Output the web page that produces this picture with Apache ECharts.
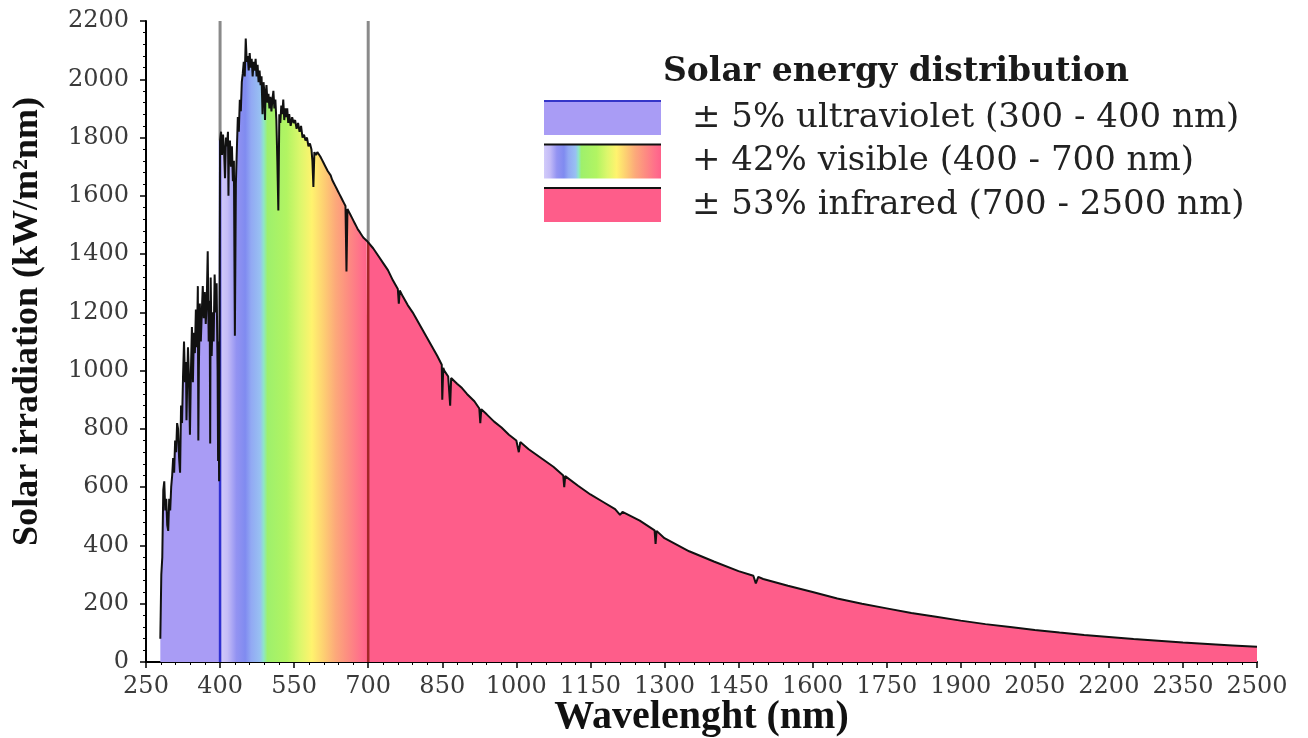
<!DOCTYPE html>
<html>
<head>
<meta charset="utf-8">
<script src="https://cdn.jsdelivr.net/npm/echarts@6/dist/echarts.min.js"></script>
<style>
  html, body { margin: 0; padding: 0; background: #ffffff; }
  #chart { width: 1308px; height: 738px; }
</style>
</head>
<body>
<div id="chart"></div>
<script>
// ---------- data ----------
const uvWavelengths = [279, 281, 283, 285, 287, 289, 291, 293, 295, 297, 299, 301, 303, 305, 307, 309, 311, 313, 315, 317, 319, 321, 323, 325, 327, 329, 331, 332, 333, 335, 337, 339, 341, 343, 345, 347, 349, 351, 353, 355, 356, 357, 359, 361, 363, 365, 367, 369, 371, 373, 375, 377, 379, 380, 381, 383, 385, 387, 389, 391, 393, 395, 396, 397, 398, 400];
const uvIrradiance  = [80, 300, 360, 590, 620, 520, 560, 470, 450, 560, 520, 600, 640, 700, 650, 760, 720, 820, 800, 700, 650, 880, 820, 980, 1100, 960, 1030, 830, 920, 1080, 980, 780, 1000, 1150, 960, 1130, 1060, 1210, 1080, 1290, 760, 1000, 1230, 1100, 1200, 1290, 1180, 1270, 1160, 1240, 1410, 1100, 1240, 750, 1320, 1050, 1200, 1100, 1330, 1200, 1300, 1000, 690, 1100, 620, 1790];

const visWavelengths = [400, 402, 404, 406, 408, 410, 412, 414, 416, 417, 418, 420, 422, 424, 426, 428, 430, 432, 434, 436, 438, 440, 442, 444, 446, 448, 450, 452, 454, 456, 458, 460, 462, 464, 466, 468, 470, 472, 474, 476, 478, 480, 482, 484, 486, 488, 490, 491, 492, 494, 496, 498, 500, 502, 504, 506, 508, 510, 512, 514, 516, 518, 520, 522, 524, 526, 528, 530, 532, 534, 536, 538, 540, 543, 546, 549, 552, 555, 558, 561, 564, 567, 570, 573, 576, 579, 582, 585, 587, 589, 591, 594, 597, 600, 603, 606, 609, 612, 615, 618, 621, 624, 627, 630, 633, 636, 639, 642, 645, 648, 651, 654, 656, 658, 661, 664, 667, 670, 673, 676, 679, 682, 685, 688, 691, 694, 697, 700];
const visIrradiance  = [1790, 1820, 1740, 1810, 1760, 1660, 1800, 1770, 1820, 1600, 1760, 1790, 1700, 1770, 1650, 1720, 1120, 1640, 1760, 1870, 1820, 1930, 1890, 1990, 2020, 2060, 2010, 2140, 2060, 2080, 2030, 2090, 2040, 2070, 2010, 2060, 2030, 2070, 2010, 2050, 1990, 2030, 1980, 2010, 1880, 1990, 1950, 1860, 1940, 1980, 1920, 1950, 1900, 1940, 1890, 1930, 1960, 1900, 1930, 1860, 1720, 1550, 1880, 1850, 1910, 1880, 1930, 1860, 1900, 1870, 1900, 1850, 1880, 1840, 1870, 1850, 1860, 1830, 1850, 1820, 1840, 1800, 1810, 1790, 1800, 1770, 1780, 1760, 1720, 1630, 1750, 1740, 1750, 1745, 1735, 1725, 1715, 1705, 1700, 1685, 1680, 1670, 1655, 1645, 1635, 1625, 1615, 1605, 1595, 1585, 1575, 1565, 1340, 1555, 1545, 1535, 1525, 1515, 1505, 1495, 1485, 1478, 1470, 1462, 1455, 1450, 1446, 1442];

const irWavelengths = [700, 710, 720, 730, 740, 750, 760, 762, 764, 770, 780, 790, 800, 810, 820, 830, 840, 849, 850, 852, 854, 858, 862, 866, 868, 880, 890, 900, 915, 925, 927, 929, 940, 955, 970, 985, 1000, 1005, 1008, 1025, 1050, 1075, 1095, 1097, 1099, 1125, 1150, 1175, 1200, 1210, 1215, 1250, 1280, 1282, 1284, 1300, 1350, 1400, 1450, 1480, 1485, 1490, 1500, 1550, 1600, 1650, 1700, 1750, 1800, 1850, 1900, 1950, 2000, 2050, 2100, 2150, 2200, 2250, 2300, 2350, 2400, 2450, 2500];
const irIrradiance  = [1442, 1420, 1395, 1370, 1345, 1310, 1280, 1230, 1275, 1255, 1225, 1200, 1170, 1140, 1110, 1080, 1050, 1020, 900, 1010, 1000, 1000, 980, 880, 975, 955, 940, 920, 895, 870, 820, 868, 850, 825, 805, 780, 760, 720, 755, 730, 700, 670, 640, 600, 638, 605, 575, 550, 525, 505, 515, 485, 452, 405, 450, 425, 380, 345, 312, 296, 270, 292, 285, 262, 240, 218, 200, 184, 168, 155, 142, 130, 120, 110, 101, 93, 86, 79, 73, 67, 62, 57, 52];

const bandNames = ['± 5% ultraviolet (300 - 400 nm)', '+ 42% visible (400 - 700 nm)', '± 53% infrared (700 - 2500 nm)'];
const boundaryWavelengths = [400, 700];
const xMin = 250, xMax = 2500, xStep = 150;
const yMin = 0, yMax = 2200, yStep = 200;

// ---------- helpers ----------
function pairs(xs, ys) { return xs.map((x, i) => [x, ys[i]]); }
const uvData = pairs(uvWavelengths, uvIrradiance);
const visData = pairs(visWavelengths, visIrradiance);
const irData = pairs(irWavelengths, irIrradiance);
const fullData = uvData.concat(visData.slice(1), irData.slice(1));
const boundaryTops = [visIrradiance[0], irIrradiance[0]];

const UV_COLOR = '#a99cf5';
const IR_COLOR = '#fe5d8a';
const visStops = [
  { offset: 0.00, color: '#d2cbfa' },
  { offset: 0.05, color: '#c4bcf7' },
  { offset: 0.11, color: '#9393f2' },
  { offset: 0.17, color: '#808bf0' },
  { offset: 0.21, color: '#92a9f3' },
  { offset: 0.27, color: '#98c0f2' },
  { offset: 0.295, color: '#8ee6c6' },
  { offset: 0.32, color: '#9ef06c' },
  { offset: 0.45, color: '#b2f462' },
  { offset: 0.54, color: '#dcf76c' },
  { offset: 0.62, color: '#fff36e' },
  { offset: 0.70, color: '#fdcf72' },
  { offset: 0.78, color: '#fca97a' },
  { offset: 0.87, color: '#fd8a82' },
  { offset: 0.96, color: '#ff6c8c' },
  { offset: 1.00, color: '#ff6189' }
];
function visGradient() { return new echarts.graphic.LinearGradient(0, 0, 1, 0, visStops); }

const chart = echarts.init(document.getElementById('chart'), null, { renderer: 'canvas' });

const tickFont = { fontFamily: 'DejaVu Serif', fontSize: 24, color: '#3a3a3a', formatter: v => String(v) };

function segment(name, x, y0, y1, color, width, z) {
  return {
    name: name, type: 'line', symbol: 'none', z: z, silent: true,
    data: [[x, y0], [x, y1]],
    lineStyle: { color: color, width: width }
  };
}

const option = {
  animation: false,
  backgroundColor: '#ffffff',
  title: {
    text: 'Solar energy distribution',
    left: 663, top: 56, padding: 0,
    textStyle: { fontFamily: 'DejaVu Serif', fontWeight: 'bold', fontSize: 33, color: '#1a1a1a' }
  },
  legend: {
    orient: 'vertical',
    left: 544, top: 101, padding: 0,
    itemWidth: 117, itemHeight: 34, itemGap: 9.5,
    icon: 'rect',
    selectedMode: false,
    textStyle: { fontFamily: 'DejaVu Serif', fontSize: 34, color: '#222222', padding: [0, 0, 0, 26] },
    data: [
      { name: bandNames[0], itemStyle: { color: UV_COLOR } },
      { name: bandNames[1], itemStyle: { color: visGradient() } },
      { name: bandNames[2], itemStyle: { color: IR_COLOR } }
    ]
  },
  grid: { left: 146, right: 51, top: 21, bottom: 76, containLabel: false, outerBoundsMode: 'none' },
  xAxis: {
    type: 'value', min: xMin, max: xMax, interval: xStep,
    name: 'Wavelenght (nm)', nameLocation: 'middle', nameGap: 36, nameMoveOverlap: false,
    nameTextStyle: { fontFamily: 'Liberation Serif', fontWeight: 'bold', fontSize: 40, color: '#111111' },
    axisLine: { show: true, onZero: false, lineStyle: { color: '#000000', width: 2 } },
    axisTick: { show: true, length: 6, lineStyle: { color: '#000000', width: 1.5 } },
    minorTick: { show: true, splitNumber: 5, length: 3, lineStyle: { color: '#000000', width: 1 } },
    axisLabel: Object.assign({ margin: 13 }, tickFont),
    splitLine: { show: false }
  },
  yAxis: {
    type: 'value', min: yMin, max: yMax, interval: yStep,
    name: 'Solar irradiation (kW/m²nm)', nameLocation: 'middle', nameGap: 100, nameMoveOverlap: false,
    nameTextStyle: { fontFamily: 'Liberation Serif', fontWeight: 'bold', fontSize: 36, color: '#111111', padding: [0, 0, 0, 40] },
    axisLine: { show: true, lineStyle: { color: '#000000', width: 2 } },
    axisTick: { show: true, length: 6, lineStyle: { color: '#000000', width: 1.5 } },
    minorTick: { show: true, splitNumber: 5, length: 3, lineStyle: { color: '#000000', width: 1 } },
    axisLabel: Object.assign({ margin: 17 }, tickFont),
    splitLine: { show: false }
  },
  series: [
    {
      name: bandNames[0], type: 'line', data: uvData, symbol: 'none', z: 2,
      lineStyle: { width: 0, color: UV_COLOR }, itemStyle: { color: UV_COLOR },
      areaStyle: { color: UV_COLOR, opacity: 1 }
    },
    {
      name: bandNames[1], type: 'line', data: visData, symbol: 'none', z: 2,
      lineStyle: { width: 0, color: '#9ef06c' }, itemStyle: { color: '#9ef06c' },
      areaStyle: { color: visGradient(), opacity: 1 }
    },
    {
      name: bandNames[2], type: 'line', data: irData, symbol: 'none', z: 2,
      lineStyle: { width: 0, color: IR_COLOR }, itemStyle: { color: IR_COLOR },
      areaStyle: { color: IR_COLOR, opacity: 1 }
    },
    segment('uv-visible boundary (above)', boundaryWavelengths[0], boundaryTops[0], yMax, '#8a8a8a', 3, 3),
    segment('visible-infrared boundary (above)', boundaryWavelengths[1], boundaryTops[1], yMax, '#8a8a8a', 3, 3),
    segment('uv-visible boundary', boundaryWavelengths[0], yMin, boundaryTops[0], '#2f2fd0', 2.5, 3),
    segment('visible-infrared boundary', boundaryWavelengths[1], yMin, boundaryTops[1], '#a32828', 2.5, 3),
    {
      name: 'spectrum', type: 'line', data: fullData, symbol: 'none', z: 4,
      lineStyle: { color: '#111111', width: 2 }
    }
  ],
  graphic: [
    { type: 'line', shape: { x1: 544, y1: 101, x2: 661, y2: 101 }, style: { stroke: '#3535c8', lineWidth: 2 }, z: 10 },
    { type: 'line', shape: { x1: 544, y1: 144.5, x2: 661, y2: 144.5 }, style: { stroke: '#111111', lineWidth: 2 }, z: 10 },
    { type: 'line', shape: { x1: 544, y1: 188, x2: 661, y2: 188 }, style: { stroke: '#111111', lineWidth: 2 }, z: 10 }
  ]
};
chart.setOption(option);
</script>
</body>
</html>
